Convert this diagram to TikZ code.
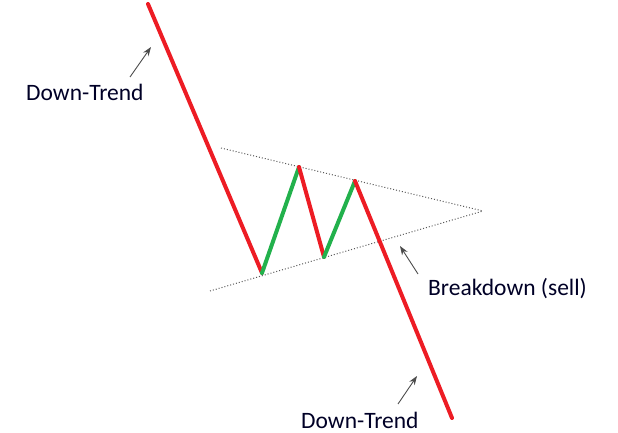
\documentclass[tikz,border=0pt]{standalone}
\usepackage{fontspec}
\setmainfont{Carlito}
\usetikzlibrary{arrows.meta}
\definecolor{trendred}{HTML}{ED1C24}
\definecolor{trendgreen}{HTML}{22B14C}
\tikzset{
  redleg/.style={draw=trendred, line width=4pt, line cap=round, line join=round},
  greenleg/.style={draw=trendgreen, line width=4pt, line cap=round, line join=round},
  bound/.style={draw=black!65, line width=1pt, dotted},
  pointer/.style={draw=black!70, line width=0.9pt, -{Stealth[length=9pt,width=6.5pt]}},
  lbl/.style={font=\fontsize{23.5}{26}\selectfont, text=black!85!blue, inner sep=0pt, anchor=base west}
}
\begin{document}
\begin{tikzpicture}[x=1pt,y=-1pt]
\useasboundingbox (0,0) rectangle (618,433);
% pivot points
\coordinate (p0) at (148,4);
\coordinate (p1) at (262,273);
\coordinate (p2) at (299,167);
\coordinate (p3) at (324,257);
\coordinate (p4) at (355,181);
\coordinate (p5) at (452,418);
% triangle boundaries
\coordinate (uL) at (221,148);
\coordinate (lL) at (210,291);
\coordinate (apex) at (483,211);
\draw[bound] (uL) -- (apex);
\draw[bound] (lL) -- (apex);
% price legs
\draw[redleg] (p0) -- (p1);
\draw[greenleg] (p1) -- (p2);
\draw[redleg] (p2) -- (p3);
\draw[greenleg] (p3) -- (p4);
\draw[redleg] (p4) -- (p5);
% labels
\node[lbl] (dt1) at (26,101) {Down-Trend};
\node[lbl] (bd) at (428,295) {Breakdown (sell)};
\node[lbl] (dt2) at (301,428) {Down-Trend};
% pointers
\coordinate (a1t) at (130,77);
\coordinate (a1h) at (151,47);
\coordinate (a2t) at (418,274);
\coordinate (a2h) at (400,246);
\coordinate (a3t) at (398,404);
\coordinate (a3h) at (417,376);
\draw[pointer] (a1t) -- (a1h);
\draw[pointer] (a2t) -- (a2h);
\draw[pointer] (a3t) -- (a3h);
\end{tikzpicture}
\end{document}
